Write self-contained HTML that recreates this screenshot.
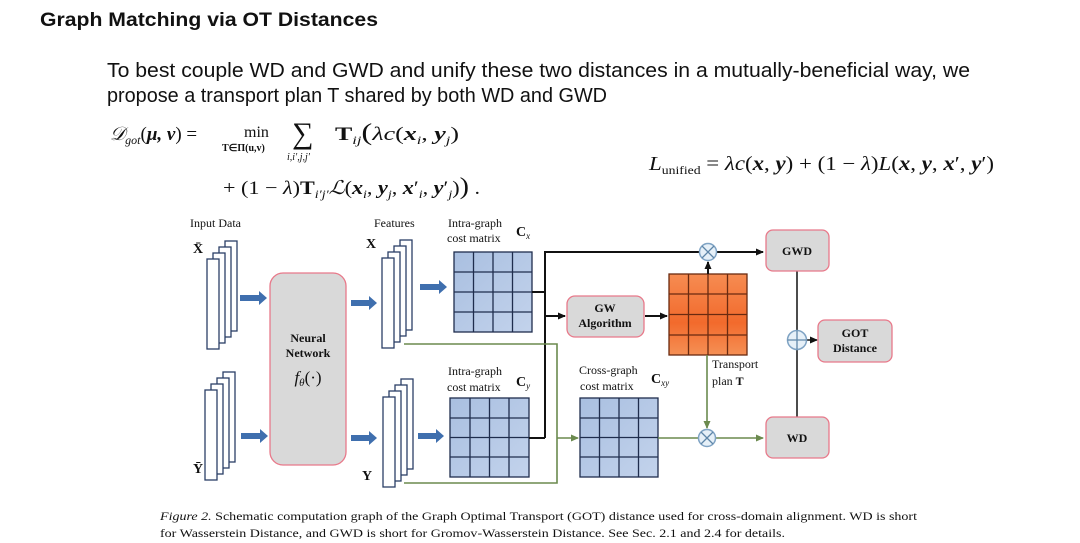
<!DOCTYPE html>
<html><head><meta charset="utf-8"><style>
html,body{margin:0;padding:0;background:#fff;}
svg{display:block}
</style></head><body>
<svg width="1080" height="543" viewBox="0 0 1080 543" xmlns="http://www.w3.org/2000/svg">
<defs>
<marker id="ab" markerWidth="8" markerHeight="8" refX="7" refY="4" orient="auto" markerUnits="userSpaceOnUse"><path d="M0,0.5 L8,4 L0,7.5 z" fill="#111"/></marker>
<marker id="ag" markerWidth="8" markerHeight="8" refX="7" refY="4" orient="auto" markerUnits="userSpaceOnUse"><path d="M0,0.5 L8,4 L0,7.5 z" fill="#6b8a4e"/></marker>
<linearGradient id="bl" x1="0" y1="0" x2="1" y2="1"><stop offset="0" stop-color="#a9bfe0"/><stop offset="1" stop-color="#c3d3ec"/></linearGradient>
<linearGradient id="or" x1="0" y1="0" x2="0" y2="1"><stop offset="0" stop-color="#f68c52"/><stop offset="0.6" stop-color="#f26a2c"/><stop offset="1" stop-color="#f59055"/></linearGradient>
</defs>
<text x="40" y="26" font-family="Liberation Sans, sans-serif" font-weight="bold" font-size="19" textLength="338" lengthAdjust="spacingAndGlyphs" fill="#111">Graph Matching via OT Distances</text>
<g font-family="Liberation Sans, sans-serif" font-size="20" fill="#111">
<text x="107" y="77" textLength="863" lengthAdjust="spacingAndGlyphs">To best couple WD and GWD and unify these two distances in a mutually-beneficial way, we</text>
<text x="107" y="102" textLength="500" lengthAdjust="spacingAndGlyphs">propose a transport plan T shared by both WD and GWD</text>
</g>
<g font-family="Liberation Serif, serif" fill="#111">
<text x="110" y="140" font-size="19"><tspan font-style="italic">𝒟</tspan><tspan font-size="12" font-style="italic" dy="4">got</tspan><tspan dy="-4">(</tspan><tspan font-weight="bold" font-style="italic">μ, ν</tspan>) =</text>
<text x="244" y="137" font-size="16">min</text>
<text x="222" y="151" font-size="10" font-weight="bold">T∈Π(u,v)</text>
<text x="292" y="143" font-size="30">∑</text>
<text x="287" y="160" font-size="10" font-style="italic">i,i′,j,j′</text>
<text x="335" y="140" font-size="19" textLength="124" lengthAdjust="spacingAndGlyphs"><tspan font-weight="bold">T</tspan><tspan font-size="12" font-style="italic" dy="4">ij</tspan><tspan dy="-4" font-size="24">(</tspan><tspan font-style="italic">λc</tspan>(<tspan font-weight="bold" font-style="italic">x</tspan><tspan font-size="12" font-style="italic" dy="4">i</tspan><tspan dy="-4">, </tspan><tspan font-weight="bold" font-style="italic">y</tspan><tspan font-size="12" font-style="italic" dy="4">j</tspan><tspan dy="-4">)</tspan></text>
<text x="223" y="194" font-size="19" textLength="257" lengthAdjust="spacingAndGlyphs">+ (1 − <tspan font-style="italic">λ</tspan>)<tspan font-weight="bold">T</tspan><tspan font-size="12" font-style="italic" dy="4">i′j′</tspan><tspan dy="-4" font-style="italic">ℒ</tspan>(<tspan font-weight="bold" font-style="italic">x</tspan><tspan font-size="12" font-style="italic" dy="4">i</tspan><tspan dy="-4">, </tspan><tspan font-weight="bold" font-style="italic">y</tspan><tspan font-size="12" font-style="italic" dy="4">j</tspan><tspan dy="-4">, </tspan><tspan font-weight="bold" font-style="italic">x</tspan>′<tspan font-size="12" font-style="italic" dy="4">i</tspan><tspan dy="-4">, </tspan><tspan font-weight="bold" font-style="italic">y</tspan>′<tspan font-size="12" font-style="italic" dy="4">j</tspan><tspan dy="-4">)</tspan><tspan font-size="24">)</tspan> .</text>
<text x="649" y="170" font-size="20" textLength="345" lengthAdjust="spacingAndGlyphs"><tspan font-style="italic">L</tspan><tspan font-size="12" dy="4">unified</tspan><tspan dy="-4"> = </tspan><tspan font-style="italic">λc</tspan>(<tspan font-weight="bold" font-style="italic">x</tspan>, <tspan font-weight="bold" font-style="italic">y</tspan>) + (1 − <tspan font-style="italic">λ</tspan>)<tspan font-style="italic">L</tspan>(<tspan font-weight="bold" font-style="italic">x</tspan>, <tspan font-weight="bold" font-style="italic">y</tspan>, <tspan font-weight="bold" font-style="italic">x</tspan>′, <tspan font-weight="bold" font-style="italic">y</tspan>′)</text>
</g>

<!-- diagram -->
<g font-family="Liberation Serif, serif" fill="#111" font-size="12">
<text x="190" y="227">Input Data</text>
<text x="374" y="227">Features</text>
<text x="193" y="253" font-weight="bold" font-size="14">X̄</text>
<text x="193" y="473" font-weight="bold" font-size="14">Ȳ</text>
<text x="366" y="248" font-weight="bold" font-size="14">X</text>
<text x="362" y="480" font-weight="bold" font-size="14">Y</text>
<text x="448" y="227">Intra-graph</text>
<text x="447" y="242">cost matrix</text>
<text x="516" y="236" font-weight="bold" font-size="14">C<tspan font-size="9" font-style="italic" font-weight="normal" dy="3">x</tspan></text>
<text x="448" y="375">Intra-graph</text>
<text x="447" y="391">cost matrix</text>
<text x="516" y="386" font-weight="bold" font-size="14">C<tspan font-size="9" font-style="italic" font-weight="normal" dy="3">y</tspan></text>
<text x="579" y="374">Cross-graph</text>
<text x="580" y="390">cost matrix</text>
<text x="651" y="383" font-weight="bold" font-size="14">C<tspan font-size="9" font-style="italic" font-weight="normal" dy="3">xy</tspan></text>
<text x="712" y="368">Transport</text>
<text x="712" y="385">plan <tspan font-weight="bold">T</tspan></text>
</g>

<g fill="#fff" stroke="#2b3f66" stroke-width="1.3">
<rect x="225" y="241" width="12" height="90"/><rect x="219" y="247" width="12" height="90"/><rect x="213" y="253" width="12" height="90"/><rect x="207" y="259" width="12" height="90"/>
<rect x="223" y="372" width="12" height="90"/><rect x="217" y="378" width="12" height="90"/><rect x="211" y="384" width="12" height="90"/><rect x="205" y="390" width="12" height="90"/>
<rect x="400" y="240" width="12" height="90"/><rect x="394" y="246" width="12" height="90"/><rect x="388" y="252" width="12" height="90"/><rect x="382" y="258" width="12" height="90"/>
<rect x="401" y="379" width="12" height="90"/><rect x="395" y="385" width="12" height="90"/><rect x="389" y="391" width="12" height="90"/><rect x="383" y="397" width="12" height="90"/>
</g>

<g fill="#3f6fae">
<path d="M240,295 h19 v-4 l8,7 l-8,7 v-4 h-19z"/>
<path d="M241,433 h19 v-4 l8,7 l-8,7 v-4 h-19z"/>
<path d="M351,300 h18 v-4 l8,7 l-8,7 v-4 h-18z"/>
<path d="M351,435 h18 v-4 l8,7 l-8,7 v-4 h-18z"/>
<path d="M420,284 h19 v-4 l8,7 l-8,7 v-4 h-19z"/>
<path d="M418,433 h18 v-4 l8,7 l-8,7 v-4 h-18z"/>
</g>

<rect x="270" y="273" width="76" height="192" rx="13" fill="#d9d9d9" stroke="#e8798a" stroke-width="1.3"/>
<g font-family="Liberation Serif, serif" font-weight="bold" font-size="12" fill="#111" text-anchor="middle">
<text x="308" y="342">Neural</text>
<text x="308" y="357">Network</text>
<text x="308" y="383" font-weight="normal" font-style="italic" font-size="17">f<tspan font-size="11" dy="3">θ</tspan><tspan dy="-3" font-style="normal">(·)</tspan></text>
</g>

<g stroke="#1f2d4d" stroke-width="1.3">
<rect x="454" y="252" width="78" height="80" fill="url(#bl)"/>
<path d="M473.5,252v80M493,252v80M512.5,252v80M454,272h78M454,292h78M454,312h78" fill="none"/>
<rect x="450" y="398" width="79" height="79" fill="url(#bl)"/>
<path d="M470,398v79M489.5,398v79M509,398v79M450,418h79M450,437.5h79M450,457h79" fill="none"/>
<rect x="580" y="398" width="78" height="79" fill="url(#bl)"/>
<path d="M599.5,398v79M619,398v79M638.5,398v79M580,418h78M580,437.5h78M580,457h78" fill="none"/>
</g>
<g stroke="#6a2a10" stroke-width="1.3">
<rect x="669" y="274" width="78" height="81" fill="url(#or)"/>
<path d="M688.5,274v81M708,274v81M727.5,274v81M669,294h78M669,314.5h78M669,335h78" fill="none"/>
</g>

<g stroke="#111" stroke-width="2" fill="none">
<path d="M532,292 H545 M529,438 H545 M545,438 V252 H699"/>
<path d="M545,316 H565" marker-end="url(#ab)"/>
<path d="M717,252 H763" marker-end="url(#ab)"/>
<path d="M645,316 H667" marker-end="url(#ab)"/>
<path d="M708,274 V262" marker-end="url(#ab)"/>
<path d="M797,271 V417" stroke-width="1.5"/>
<path d="M807,340 H817" stroke-width="1.5" marker-end="url(#ab)"/>
</g>
<g stroke="#6b8a4e" stroke-width="1.6" fill="none">
<path d="M404,344 H557 V483 H404"/>
<path d="M557,438 H578" marker-end="url(#ag)"/>
<path d="M658,438 H698"/>
<path d="M716,438 H763" marker-end="url(#ag)"/>
<path d="M707,355 V428" marker-end="url(#ag)"/>
</g>

<g stroke="#7fa3c4" stroke-width="1.5" fill="#e6f0f8">
<circle cx="708" cy="252" r="8.5"/><circle cx="707" cy="438" r="8.5"/><circle cx="797" cy="340" r="9.5"/>
</g>
<g stroke="#5f86a8" stroke-width="1.3">
<path d="M702,246 l12,12 M714,246 l-12,12"/>
<path d="M701,432 l12,12 M713,432 l-12,12"/>
<path d="M787.5,340 h19 M797,330.5 v19"/>
</g>

<g fill="#d9d9d9" stroke="#e8798a" stroke-width="1.3">
<rect x="567" y="296" width="77" height="41" rx="8"/>
<rect x="766" y="230" width="63" height="41" rx="7"/>
<rect x="766" y="417" width="63" height="41" rx="7"/>
<rect x="818" y="320" width="74" height="42" rx="7"/>
</g>
<g font-family="Liberation Serif, serif" font-weight="bold" font-size="12" fill="#111" text-anchor="middle">
<text x="605" y="312">GW</text><text x="605" y="327">Algorithm</text>
<text x="797" y="255">GWD</text>
<text x="797" y="442">WD</text>
<text x="855" y="337">GOT</text><text x="855" y="352">Distance</text>
</g>

<g font-family="Liberation Serif, serif" font-size="12" fill="#111">
<text x="160" y="520" textLength="757" lengthAdjust="spacingAndGlyphs"><tspan font-style="italic">Figure 2.</tspan> Schematic computation graph of the Graph Optimal Transport (GOT) distance used for cross-domain alignment. WD is short</text>
<text x="160" y="537" textLength="625" lengthAdjust="spacingAndGlyphs">for Wasserstein Distance, and GWD is short for Gromov-Wasserstein Distance. See Sec. 2.1 and 2.4 for details.</text>
</g>
</svg>
</body></html>
